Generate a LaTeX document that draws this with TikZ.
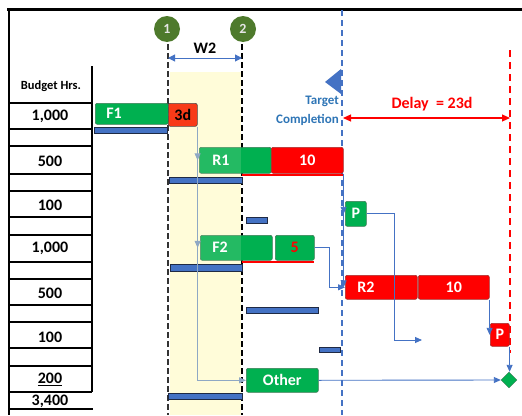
\documentclass[tikz,border=0pt]{standalone}
\usepackage{fontspec}
\setmainfont{Carlito}
\usetikzlibrary{arrows.meta,shapes.geometric,calc}
\definecolor{tgreen}{HTML}{00B050}
\definecolor{tgreenD}{HTML}{3C7A55}
\definecolor{tred}{HTML}{FF0000}
\definecolor{tredD}{HTML}{A03030}
\definecolor{torange}{HTML}{F83A18}
\definecolor{barblue}{HTML}{4472C4}
\definecolor{bardark}{HTML}{1F2A44}
\definecolor{bandyel}{HTML}{FFFCD9}
\definecolor{olivec}{HTML}{4E7A2C}
\definecolor{linkblue}{HTML}{4472C4}
\definecolor{linkgray}{HTML}{8FA8C4}
\definecolor{tblue}{HTML}{2E75B6}
\tikzset{
 taskbox/.style={anchor=north west, rounded corners=2pt, inner sep=0pt, line width=0.6pt, font=\fontsize{16}{18}\selectfont\bfseries, text=white},
 gbox/.style={taskbox, fill=tgreen, draw=tgreenD},
 rbox/.style={taskbox, fill=tred, draw=tredD},
 resbar/.style={anchor=north west, inner sep=0pt, fill=barblue, draw=bardark, line width=0.8pt},
 tlabel/.style={font=\fontsize{16}{18}\selectfont\bfseries, text=white, inner sep=0pt},
 numtxt/.style={font=\fontsize{16}{18}\selectfont\bfseries, inner sep=0pt},
 link/.style={draw=linkblue, line width=0.9pt, -{Triangle[length=7pt,width=6pt]}},
 glink/.style={draw=linkgray, line width=1pt, -{Triangle[length=7pt,width=6pt]}},
 tblline/.style={line width=1.2pt},
 phase/.style={line width=1.2pt, dash pattern=on 6pt off 3pt},
 marker/.style={circle, fill=olivec, minimum size=26pt, inner sep=0pt, text=black!10, font=\fontsize{14}{16}\selectfont\bfseries},
}
\begin{document}
\begin{tikzpicture}[x=1pt,y=-1pt]
\useasboundingbox (0,0) rectangle (522,415);
\fill[white] (0,0) rectangle (522,415);
% yellow band
\fill[bandyel] (170,72) rectangle (241,415);
% frame
\draw[line width=3pt] (7,9) -- (522,9);
\draw[line width=2.5pt] (9,8) -- (9,415);
% table
\draw[tblline] (92,66) -- (92,392);
\foreach \yy in {103,129,146,174,191,217,235,262,279,305,322,348,366,392}
  \draw[tblline] (9,\yy) -- (92,\yy);
\draw[line width=2.5pt] (9,409) -- (93,409);
\node[font=\fontsize{12.5}{14}\selectfont\bfseries] (bh) at (51,86) {Budget Hrs.};
\node[numtxt] (h1) at (50,116) {1,000};
\node[numtxt] (h2) at (50,161) {500};
\node[numtxt] (h3) at (50,205) {100};
\node[numtxt] (h4) at (50,248) {1,000};
\node[numtxt] (h5) at (50,293) {500};
\node[numtxt] (h6) at (50,337) {100};
\node[numtxt] (h7) at (50,379) {\underline{200}};
\node[numtxt] (tot) at (50,401) {3,400};
% phase lines and markers
\draw[phase, black!80] (168,44) -- (168,415);
\draw[phase] (242,44) -- (242,415);
\node[marker] (m1) at (167,29) {1};
\node[marker] (m2) at (243,29) {2};
\coordinate (w1) at (168,58);
\coordinate (w2) at (242,58);
\draw[linkblue, line width=1pt, {Triangle[length=7pt,width=7pt]}-{Triangle[length=7pt,width=7pt]}] (w1) -- (w2);
\node[font=\fontsize{16}{18}\selectfont\bfseries] (w2lab) at (205,48) {W2};
% target completion
\draw[barblue, line width=1.6pt, dash pattern=on 6pt off 4pt] (342,10) -- (342,415);
\fill[barblue] (325,82) -- (341,69) -- (341,94) -- cycle;
\node[anchor=east, text=tblue, font=\fontsize{13}{15}\selectfont\bfseries, inner sep=0pt] (tg1) at (339,101) {Target};
\node[anchor=east, text=tblue, font=\fontsize{13}{15}\selectfont\bfseries, inner sep=0pt] (tg2) at (339,120) {Completion};
% delay
\draw[red, line width=1.6pt, dash pattern=on 7pt off 5pt] (510,50) -- (510,353);
\coordinate (d1) at (343,118);
\coordinate (d2) at (510,118);
\draw[red, line width=1.2pt, {Triangle[length=8pt,width=7pt]}-{Triangle[length=8pt,width=7pt]}] (d1) -- (d2);
\node[text=red, font=\fontsize{16}{18}\selectfont\bfseries] (dl) at (432,104) {Delay\ \ = 23d};
% tasks
\node[gbox, minimum width=73pt, minimum height=21pt] (F1) at (95,103) {};
\node[gbox, minimum width=72pt, minimum height=26pt] (R1) at (199,147) {};
\node[gbox, minimum width=72pt, minimum height=25pt] (F2) at (200,235) {};
% translucent band overlay on the task bars
\fill[bandyel, opacity=0.14] (170,140) rectangle (241,265);
\node[tlabel] (F1t) at (114,113) {F1};
\node[tlabel] (R1t) at (221,160) {R1};
\node[tlabel] (F2t) at (220,247) {F2};
\node[rbox, fill=torange, draw=black!70, text=black, minimum width=29pt, minimum height=23pt] (D3) at (168,103) {3d};
\node[rbox, minimum width=72pt, minimum height=26pt] (R1b) at (271,147) {10};
\draw[red, line width=2.5pt] (242,175) -- (343,175);
\node[gbox, text=red, minimum width=39pt, minimum height=25pt] (F2b) at (275,235) {5};
\draw[red, line width=2.5pt] (242,262) -- (314,262);
\node[gbox, minimum width=21pt, minimum height=25pt] (P1) at (345,201) {P};
\node[rbox, minimum width=72pt, minimum height=24pt] (R2) at (345,275) {};
\node[tlabel] (R2t) at (366,287) {R2};
\node[rbox, minimum width=71pt, minimum height=24pt] (R2b) at (418,275) {10};
\node[gbox, minimum width=72pt, minimum height=24pt] (Oth) at (246,368) {Other};
% resource bars
\node[resbar, minimum width=73pt, minimum height=6pt] (b1) at (94,127) {};
\node[resbar, minimum width=73pt, minimum height=6pt] (b2) at (169,177) {};
\node[resbar, minimum width=21pt, minimum height=6pt] (b3) at (246,217) {};
\node[resbar, minimum width=72pt, minimum height=7pt] (b4) at (170,264) {};
\node[resbar, minimum width=72pt, minimum height=6pt] (b5) at (246,307) {};
\node[resbar, minimum width=21pt, minimum height=5pt] (b6) at (319,347) {};
\node[resbar, minimum width=74pt, minimum height=6pt] (b7) at (168,393) {};
% end items
\node[rbox, minimum width=19pt, minimum height=23pt] (P2) at (490,323) {P};
\node[diamond, fill=tgreen, draw=tgreenD, minimum size=16pt, inner sep=0pt] (ms) at (509,380) {};
% connectors
\draw[glink] (D3.south east) -- (D3.south east |- R1.west);
\draw[glink] (D3.south east) -- (D3.south east |- F2.west);
\draw[glink] (D3.south east) |- (Oth.west);
\draw[link] (R1b.south east) -- (R1b.south east |- P1.west);
\draw[link] (R1b.south east) -- (R1b.south east |- R2.west);
\draw[link] (F2b.east) -- ++(15,0) |- (R2.west);
\coordinate (pend) at (422,340);
\draw[link] (P1.east) -- ++(28,0) |- (pend);
\draw[link] (R2b.south east) -- (R2b.south east |- P2.west);
\draw[link] (P2.south east) -- (P2.south east |- ms.north);
\draw[link] (Oth.east) -- (ms.west);
\end{tikzpicture}
\end{document}
